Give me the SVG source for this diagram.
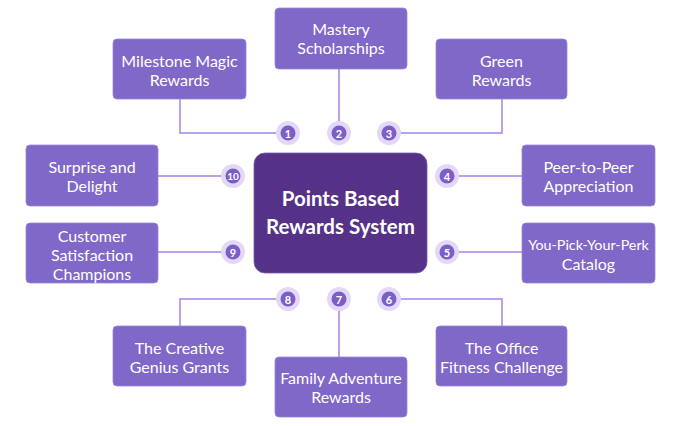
<svg xmlns="http://www.w3.org/2000/svg" width="681" height="426" viewBox="0 0 681 426">
<style>
.box{fill:#8068C9;stroke:#9A86D8;stroke-width:0.8}
.lbl{font-family:Lato,"Open Sans","Liberation Sans",sans-serif;font-size:16px;fill:#FFFFFF;text-anchor:middle;dominant-baseline:central}
.conn{fill:none;stroke:#B9A2EE;stroke-width:2}
.halo{fill:#E3D8F8}
.dot{fill:#7C5FC6}
.num{font-family:Lato,"Open Sans","Liberation Sans",sans-serif;font-size:11px;font-weight:bold;fill:#FFFFFF;text-anchor:middle;dominant-baseline:central}
.title{font-family:Lato,"Open Sans","Liberation Sans",sans-serif;font-size:20.5px;font-weight:bold;fill:#FFFFFF;text-anchor:middle;dominant-baseline:central}
</style>
<rect width="681" height="426" fill="#FFFFFF"/>
<g id="connectors">
<polyline class="conn" points="180,99 180,133 288,133"/>
<line class="conn" x1="339" y1="69" x2="339" y2="133"/>
<polyline class="conn" points="502,99 502,133 389,133"/>
<line class="conn" x1="158" y1="176" x2="233" y2="176"/>
<line class="conn" x1="158" y1="252" x2="233" y2="252"/>
<line class="conn" x1="447" y1="176" x2="522" y2="176"/>
<line class="conn" x1="447" y1="252" x2="522" y2="252"/>
<polyline class="conn" points="180,326 180,299 288,299"/>
<line class="conn" x1="339" y1="299" x2="339" y2="357"/>
<polyline class="conn" points="502,326 502,299 389,299"/>
</g>
<g id="center">
<rect x="254" y="153" width="173" height="120" rx="11" fill="#553288" stroke="#7A5AB0" stroke-width="0.8"/>
<text class="title" x="340.5" y="198">Points Based</text>
<text class="title" x="340.5" y="226">Rewards System</text>
</g>
<g id="badges">
<g id="b1"><circle class="halo" cx="288" cy="133" r="12"/><circle class="dot" cx="288" cy="133" r="7.5"/><text class="num" x="288" y="133">1</text></g>
<g id="b2"><circle class="halo" cx="339" cy="133" r="12"/><circle class="dot" cx="339" cy="133" r="7.5"/><text class="num" x="339" y="133">2</text></g>
<g id="b3"><circle class="halo" cx="389" cy="133" r="12"/><circle class="dot" cx="389" cy="133" r="7.5"/><text class="num" x="389" y="133">3</text></g>
<g id="b4"><circle class="halo" cx="447" cy="176" r="12"/><circle class="dot" cx="447" cy="176" r="7.5"/><text class="num" x="447" y="176">4</text></g>
<g id="b5"><circle class="halo" cx="447" cy="252" r="12"/><circle class="dot" cx="447" cy="252" r="7.5"/><text class="num" x="447" y="252">5</text></g>
<g id="b6"><circle class="halo" cx="389" cy="299" r="12"/><circle class="dot" cx="389" cy="299" r="7.5"/><text class="num" x="389" y="299">6</text></g>
<g id="b7"><circle class="halo" cx="339" cy="299" r="12"/><circle class="dot" cx="339" cy="299" r="7.5"/><text class="num" x="339" y="299">7</text></g>
<g id="b8"><circle class="halo" cx="288" cy="299" r="12"/><circle class="dot" cx="288" cy="299" r="7.5"/><text class="num" x="288" y="299">8</text></g>
<g id="b9"><circle class="halo" cx="233" cy="252" r="12"/><circle class="dot" cx="233" cy="252" r="7.5"/><text class="num" x="233" y="252">9</text></g>
<g id="b10"><circle class="halo" cx="233" cy="176" r="12"/><circle class="dot" cx="233" cy="176" r="7.5"/><text class="num" x="233" y="176" style="font-size:10px">10</text></g>
</g>
<g id="n1"><rect class="box" x="113" y="39" width="133" height="60" rx="4"/><text class="lbl" x="179.5" y="60">Milestone Magic</text><text class="lbl" x="179.5" y="79">Rewards</text></g>
<g id="n2"><rect class="box" x="275" y="8" width="132" height="61" rx="4"/><text class="lbl" x="341" y="28">Mastery</text><text class="lbl" x="341" y="47">Scholarships</text></g>
<g id="n3"><rect class="box" x="436" y="39" width="131" height="60" rx="4"/><text class="lbl" x="501.5" y="60">Green</text><text class="lbl" x="501.5" y="79">Rewards</text></g>
<g id="n4"><rect class="box" x="522" y="145" width="133" height="61" rx="4"/><text class="lbl" x="588.5" y="166">Peer-to-Peer</text><text class="lbl" x="588.5" y="185">Appreciation</text></g>
<g id="n5"><rect class="box" x="522" y="223" width="133" height="60" rx="4"/><text class="lbl" x="588.5" y="244" style="font-size:14.3px">You-Pick-Your-Perk</text><text class="lbl" x="588.5" y="263">Catalog</text></g>
<g id="n6"><rect class="box" x="436" y="326" width="131" height="60" rx="4"/><text class="lbl" x="501.5" y="347">The Office</text><text class="lbl" x="501.5" y="366">Fitness Challenge</text></g>
<g id="n7"><rect class="box" x="275" y="357" width="132" height="60" rx="4"/><text class="lbl" x="341" y="377">Family Adventure</text><text class="lbl" x="341" y="396">Rewards</text></g>
<g id="n8"><rect class="box" x="113" y="326" width="133" height="60" rx="4"/><text class="lbl" x="179.5" y="347">The Creative</text><text class="lbl" x="179.5" y="366">Genius Grants</text></g>
<g id="n9"><rect class="box" x="26" y="223" width="132" height="60" rx="4"/><text class="lbl" x="92" y="235">Customer</text><text class="lbl" x="92" y="254">Satisfaction</text><text class="lbl" x="92" y="273">Champions</text></g>
<g id="n10"><rect class="box" x="26" y="145" width="132" height="61" rx="4"/><text class="lbl" x="92" y="166">Surprise and</text><text class="lbl" x="92" y="185">Delight</text></g>
</svg>
